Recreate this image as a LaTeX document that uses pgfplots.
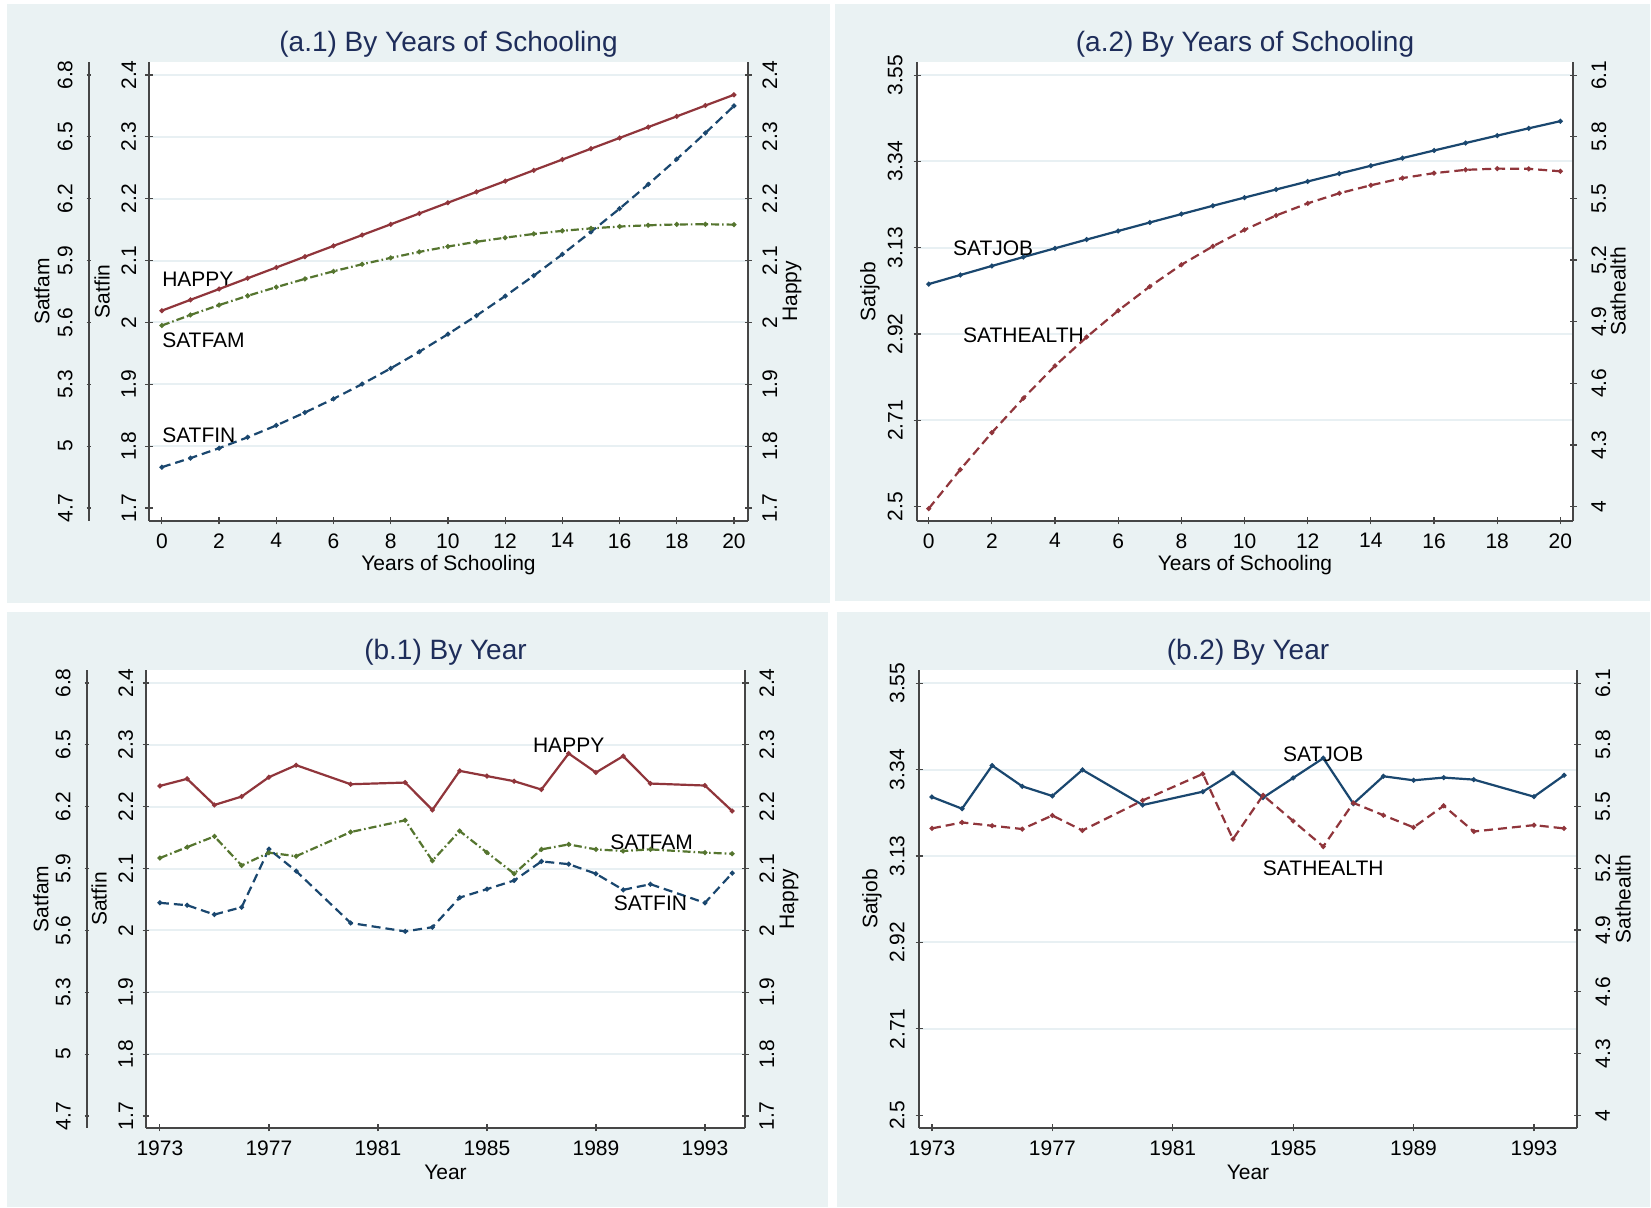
\documentclass[border=0pt]{standalone}
\usepackage{fontspec}
\setmainfont{Liberation Sans}
\usepackage{pgfplots}
\usepackage{pgfplotstable}
\pgfplotsset{compat=1.18}
\definecolor{bgc}{RGB}{234,242,243}
\definecolor{gridc}{RGB}{232,240,243}
\definecolor{axgray}{RGB}{70,70,70}
\definecolor{navyc}{RGB}{26,71,111}
\definecolor{maroonc}{RGB}{144,53,59}
\definecolor{greenc}{RGB}{85,117,47}
\definecolor{titlec}{RGB}{30,45,90}

\pgfplotstableread{
x happy satfin satfam
0 2.019 1.766 5.585
1 2.0365 1.7806 5.636
2 2.0539 1.7967 5.684
3 2.0714 1.8143 5.729
4 2.0888 1.8335 5.771
5 2.1063 1.8543 5.811
6 2.1237 1.8765 5.848
7 2.1412 1.9003 5.882
8 2.1586 1.9257 5.913
9 2.1761 1.9526 5.942
10 2.1935 1.981 5.968
11 2.211 2.011 5.991
12 2.2284 2.0425 6.011
13 2.2459 2.0755 6.029
14 2.2633 2.1101 6.044
15 2.2808 2.1463 6.056
16 2.2982 2.1839 6.065
17 2.3157 2.2231 6.071
18 2.3331 2.2639 6.075
19 2.3506 2.3062 6.076
20 2.368 2.350 6.074
}\tabA

\pgfplotstableread{
x satjob sathealth
0 3.0415 3.99
1 3.0636 4.180
2 3.0856 4.36
3 3.1073 4.528
4 3.1286 4.685
5 3.1498 4.825
6 3.1707 4.954
7 3.1914 5.071
8 3.2118 5.177
9 3.2321 5.267
10 3.252 5.347
11 3.2717 5.417
12 3.2912 5.476
13 3.3104 5.525
14 3.3294 5.564
15 3.3481 5.599
16 3.3666 5.623
17 3.3848 5.639
18 3.4028 5.645
19 3.4206 5.644
20 3.438 5.632
}\tabB

\pgfplotstableread{
year happy satfin satfam
1973 2.2336 2.0446 5.951
1974 2.245 2.0407 6.004
1975 2.2028 2.0256 6.056
1976 2.2164 2.0375 5.915
1977 2.2477 2.1314 5.977
1978 2.2671 2.0958 5.960
1980 2.2363 2.012 6.077
1982 2.239 1.9984 6.134
1983 2.1947 2.0052 5.938
1984 2.2579 2.053 6.082
1985 2.2495 2.0667 5.978
1986 2.2412 2.0807 5.875
1987 2.2277 2.1115 5.993
1988 2.286 2.1071 6.017
1989 2.2553 2.0916 5.993
1990 2.2817 2.0656 5.985
1991 2.2374 2.0747 5.993
1993 2.2342 2.0446 5.977
1994 2.193 2.0925 5.972
}\tabC

\pgfplotstableread{
year satjob sathealth
1973 3.2734 5.394
1974 3.2449 5.423
1975 3.3498 5.407
1976 3.2993 5.391
1977 3.2758 5.457
1978 3.3393 5.384
1980 3.2539 5.530
1982 3.2863 5.659
1983 3.3319 5.342
1984 3.2717 5.555
1985 3.3197 5.430
1986 3.3676 5.306
1987 3.2571 5.518
1988 3.3237 5.458
1989 3.3139 5.399
1990 3.3205 5.504
1991 3.3156 5.379
1993 3.2741 5.410
1994 3.3261 5.394
}\tabD

\tikzset{lab/.style={font=\fontsize{10.5}{12}\selectfont, inner sep=0pt}}
\pgfplotsset{
 base/.style={scale only axis, clip=false, tick align=outside, major tick length=3.5pt,
   tick style={line width=0.6pt, draw=axgray},
   axis line style={-, line width=0.7pt, draw=axgray},
   tick label style={font=\fontsize{10.5}{12}\selectfont, inner sep=0pt, text=black},
   /pgf/number format/assume math mode=true,
   /pgf/number format/1000 sep={},
   scaled x ticks=false, scaled y ticks=false,
 },
 ylab left/.style={every axis y label/.style={at={(axis description cs:0,0.5)}, xshift=-#1, rotate=90, anchor=center, font=\fontsize{10.5}{12}\selectfont}},
 ylab right/.style={every axis y label/.style={at={(axis description cs:1,0.5)}, xshift=#1, rotate=90, anchor=center, font=\fontsize{10.5}{12}\selectfont}},
 ticks left/.style={axis y line=left, y axis line style={-}, every outer y axis line/.append style={-}, yticklabel style={rotate=90, anchor=south}, yticklabel shift=#1},
 ticks right/.style={axis y line=right, y axis line style={-}, every outer y axis line/.append style={-}, yticklabel style={rotate=90, anchor=north}, yticklabel shift=#1},
 xlab/.style={axis x line=bottom, x axis line style={-}, every outer x axis line/.append style={-}, every axis x label/.style={at={(axis description cs:0.5,0)}, yshift=-22pt, anchor=center, font=\fontsize{10.5}{12}\selectfont}, xticklabel style={anchor=north}, xticklabel shift=#1},
 titl/.style={every axis title/.style={at={(axis description cs:0.5,1)}, yshift=8.75pt, anchor=center, font=\fontsize{14}{16}\selectfont, text=titlec}},
 grd/.style={ymajorgrids, grid style={line width=1pt, draw=gridc}, extra y tick style={grid=none}, axis background/.style={fill=white}},
 sline/.style={line width=1.1pt, mark=*, mark size=0.6pt, mark options={solid}},
 dline/.style={line width=1.1pt, dash pattern=on 4.5pt off 2.5pt, mark=*, mark size=0.6pt, mark options={solid}},
 ddline/.style={line width=1.1pt, dash pattern=on 4pt off 1.5pt on 0.8pt off 1.5pt, mark=*, mark size=0.6pt, mark options={solid}},
}

\begin{document}
\begin{tikzpicture}
\fill[white] (0,0) rectangle (825.5pt,604pt);
\fill[bgc] (3.5pt,302.5pt) rectangle (415pt,602pt);
\fill[bgc] (417.5pt,303.5pt) rectangle (825pt,602pt);
\fill[bgc] (3.5pt,0.5pt) rectangle (414pt,298pt);
\fill[bgc] (418.5pt,0.5pt) rectangle (825pt,298pt);

% ================= (a.1) =================
\begin{axis}[base, at={(44.5pt,343.5pt)}, anchor=south west, width=1pt, height=229.5pt,
  xmin=0, xmax=1, ymin=4.637, ymax=6.863, hide x axis,
  ticks left=6.75pt, major tick length=2.5pt, ylab left=23.5pt, ylabel={Satfam},
  ytick={4.7,5,5.3,5.6,5.9,6.2,6.5,6.8}]
\addplot[draw=none] coordinates {(0,5)};
\end{axis}
\begin{axis}[base, titl, grd, at={(74.5pt,343.5pt)}, anchor=south west, width=299.5pt, height=229.5pt,
  xmin=-0.45, xmax=20.49, ymin=1.679, ymax=2.421,
  xlab=4.25pt, xtick={0,2,...,20}, xlabel={Years of Schooling},
  ticks left=4.5pt, ylab left=23.5pt, ylabel={Satfin},
  ytick={1.8,1.9,2,2.1,2.2,2.3,2.4}, extra y ticks={1.7},
  title={(a.1) By Years of Schooling}]
\addplot[navyc, dline] table[x=x,y=satfin]{\tabA};
\node[lab, anchor=west] at (axis cs:0,2.0699) {HAPPY};
\node[lab, anchor=west] at (axis cs:0,1.971) {SATFAM};
\node[lab, anchor=west] at (axis cs:0,1.8175) {SATFIN};
\end{axis}
\begin{axis}[base, at={(74.5pt,343.5pt)}, anchor=south west, width=299.5pt, height=229.5pt,
  xmin=-0.45, xmax=20.49, ymin=4.637, ymax=6.863, hide x axis, hide y axis]
\addplot[greenc, ddline] table[x=x,y=satfam]{\tabA};
\end{axis}
\begin{axis}[base, at={(74.5pt,343.5pt)}, anchor=south west, width=299.5pt, height=229.5pt,
  xmin=-0.45, xmax=20.49, ymin=1.679, ymax=2.421, hide x axis,
  ticks right=5.25pt, ylab right=22pt, ylabel={Happy},
  ytick={1.7,1.8,1.9,2,2.1,2.2,2.3,2.4}]
\addplot[maroonc, sline] table[x=x,y=happy]{\tabA};
\end{axis}

% ================= (a.2) =================
\begin{axis}[base, titl, grd, at={(458.5pt,343.5pt)}, anchor=south west, width=328pt, height=229.5pt,
  xmin=-0.37, xmax=20.4, ymin=2.465, ymax=3.582,
  xlab=4.25pt, xtick={0,2,...,20}, xlabel={Years of Schooling},
  ticks left=5.25pt, ylab left=23.5pt, ylabel={Satjob},
  ytick={2.71,2.92,3.13,3.34,3.55}, extra y ticks={2.5},
  title={(a.2) By Years of Schooling}]
\addplot[navyc, sline] table[x=x,y=satjob]{\tabB};
\node[lab, anchor=west] at (axis cs:0.76,3.1298) {SATJOB};
\node[lab, anchor=west] at (axis cs:1.08,2.9166) {SATHEALTH};
\end{axis}
\begin{axis}[base, at={(458.5pt,343.5pt)}, anchor=south west, width=328pt, height=229.5pt,
  xmin=-0.37, xmax=20.4, ymin=3.93, ymax=6.164, hide x axis,
  ticks right=7.25pt, ylab right=22.5pt, ylabel={Sathealth},
  ytick={4,4.3,4.6,4.9,5.2,5.5,5.8,6.1}]
\addplot[maroonc, dline] table[x=x,y=sathealth]{\tabB};
\end{axis}

% ================= (b.1) =================
\begin{axis}[base, at={(43.5pt,40pt)}, anchor=south west, width=1pt, height=229pt,
  xmin=0, xmax=1, ymin=4.6418, ymax=6.863, hide x axis,
  ticks left=6.75pt, major tick length=2.5pt, ylab left=23pt, ylabel={Satfam},
  ytick={4.7,5,5.3,5.6,5.9,6.2,6.5,6.8}]
\addplot[draw=none] coordinates {(0,5)};
\end{axis}
\begin{axis}[base, titl, grd, at={(73pt,40pt)}, anchor=south west, width=299.5pt, height=229pt,
  xmin=1972.49, xmax=1994.47, ymin=1.6806, ymax=2.421,
  xlab=4.25pt, xtick={1973,1977,1981,1985,1989,1993}, xlabel={Year},
  ticks left=4.5pt, ylab left=23.5pt, ylabel={Satfin},
  ytick={1.8,1.9,2,2.1,2.2,2.3,2.4}, extra y ticks={1.7},
  title={(b.1) By Year}]
\addplot[navyc, dline] table[x=year,y=satfin]{\tabC};
\node[lab, anchor=center] at (axis cs:1988,2.2985) {HAPPY};
\node[lab, anchor=center] at (axis cs:1991.04,2.1422) {SATFAM};
\node[lab, anchor=center] at (axis cs:1991,2.0435) {SATFIN};
\end{axis}
\begin{axis}[base, at={(73pt,40pt)}, anchor=south west, width=299.5pt, height=229pt,
  xmin=1972.49, xmax=1994.47, ymin=4.6418, ymax=6.863, hide x axis, hide y axis]
\addplot[greenc, ddline] table[x=year,y=satfam]{\tabC};
\end{axis}
\begin{axis}[base, at={(73pt,40pt)}, anchor=south west, width=299.5pt, height=229pt,
  xmin=1972.49, xmax=1994.47, ymin=1.6806, ymax=2.421, hide x axis,
  ticks right=5.25pt, ylab right=22pt, ylabel={Happy},
  ytick={1.7,1.8,1.9,2,2.1,2.2,2.3,2.4}]
\addplot[maroonc, sline] table[x=year,y=happy]{\tabC};
\end{axis}

% ================= (b.2) =================
\begin{axis}[base, titl, grd, at={(459.5pt,40pt)}, anchor=south west, width=329pt, height=229pt,
  xmin=1972.57, xmax=1994.43, ymin=2.469, ymax=3.582,
  xlab=4.25pt, xtick={1973,1977,1981,1985,1989,1993}, xlabel={Year},
  ticks left=5.25pt, ylab left=23.5pt, ylabel={Satjob},
  ytick={2.71,2.92,3.13,3.34,3.55}, extra y ticks={2.5},
  title={(b.2) By Year}]
\addplot[navyc, sline] table[x=year,y=satjob]{\tabD};
\node[lab, anchor=center] at (axis cs:1986,3.3776) {SATJOB};
\node[lab, anchor=center] at (axis cs:1986,3.1001) {SATHEALTH};
\end{axis}
\begin{axis}[base, at={(459.5pt,40pt)}, anchor=south west, width=329pt, height=229pt,
  xmin=1972.57, xmax=1994.43, ymin=3.938, ymax=6.164, hide x axis,
  ticks right=7.25pt, ylab right=23pt, ylabel={Sathealth},
  ytick={4,4.3,4.6,4.9,5.2,5.5,5.8,6.1}]
\addplot[maroonc, dline] table[x=year,y=sathealth]{\tabD};
\end{axis}
\end{tikzpicture}
\end{document}
